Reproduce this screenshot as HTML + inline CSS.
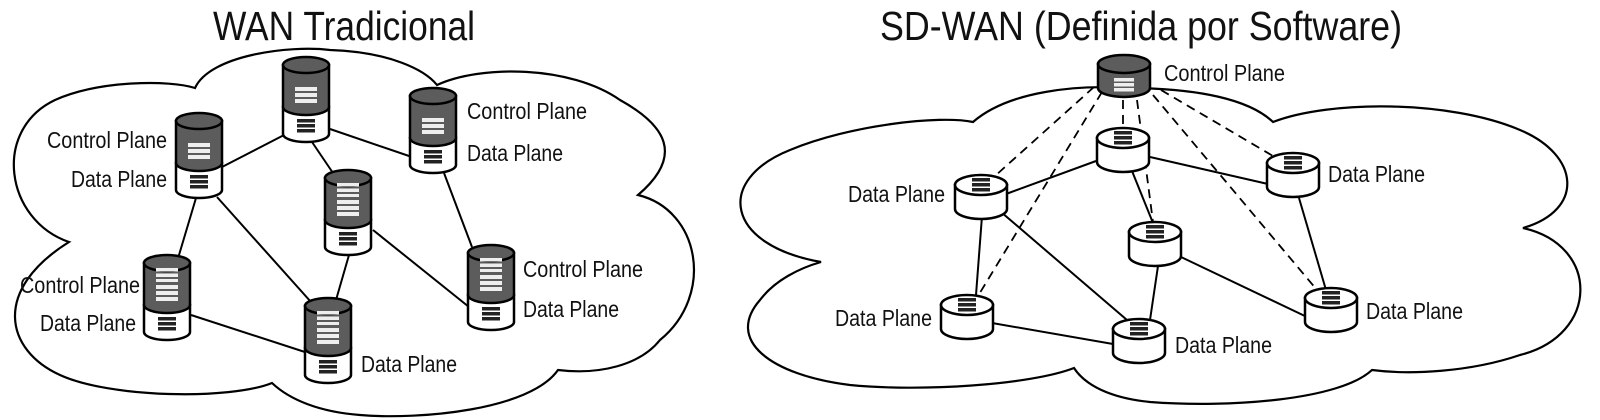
<!DOCTYPE html>
<html><head><meta charset="utf-8"><style>
html,body{margin:0;padding:0;background:#fff;}
svg{display:block;}
text{font-family:"Liberation Sans",sans-serif;fill:#111;}
</style></head><body>
<svg width="1600" height="420" viewBox="0 0 1600 420" xmlns="http://www.w3.org/2000/svg">
<defs>
<g id="sc">
 <path d="M-23,50 V77 A23,8 0 0 0 23,77 V50 Z" fill="#fff" stroke="#000" stroke-width="2.5"/>
 <path d="M-23,8 V50 A23,8 0 0 0 23,50 V8 Z" fill="#5c5c5c" stroke="#000" stroke-width="2.5"/>
 <ellipse cx="0" cy="8" rx="23" ry="8" fill="#5c5c5c" stroke="#000" stroke-width="2.5"/>
 <rect x="-11" y="30" width="22" height="4" fill="#eee"/>
 <rect x="-11" y="36" width="22" height="4" fill="#eee"/>
 <rect x="-11" y="42" width="22" height="4" fill="#eee"/>
 <rect x="-9" y="62" width="18" height="3.5" fill="#222"/>
 <rect x="-9" y="67" width="18" height="3.5" fill="#222"/>
 <rect x="-9" y="72" width="18" height="3.5" fill="#222"/>
</g>
<g id="sc2">
 <use href="#sc"/>
 <rect x="-11" y="13" width="22" height="3.5" fill="#eee"/>
 <rect x="-11" y="18.5" width="22" height="3.5" fill="#eee"/>
 <rect x="-11" y="24" width="22" height="3" fill="#eee"/>
</g>
<g id="dn">
 <path d="M-26,10 V34 A26,10 0 0 0 26,34 V10 Z" fill="#fff" stroke="#000" stroke-width="2.5"/>
 <ellipse cx="0" cy="10" rx="26" ry="10" fill="#fff" stroke="#000" stroke-width="2.5"/>
 <rect x="-9" y="3" width="18" height="3.5" fill="#222"/>
 <rect x="-9" y="8" width="18" height="3.5" fill="#222"/>
 <rect x="-9" y="13" width="18" height="3.5" fill="#222"/>
</g>
<g id="cn">
 <path d="M-26,9 V33 A26,9 0 0 0 26,33 V9 Z" fill="#5c5c5c" stroke="#000" stroke-width="2.5"/>
 <ellipse cx="0" cy="9" rx="26" ry="9" fill="#5c5c5c" stroke="#000" stroke-width="2.5"/>
 <rect x="-10" y="23" width="20" height="3.5" fill="#eee"/>
 <rect x="-10" y="28" width="20" height="3.5" fill="#eee"/>
 <rect x="-10" y="33" width="20" height="3.5" fill="#eee"/>
</g>
</defs>

<text x="213" y="40" font-size="41" textLength="262" lengthAdjust="spacingAndGlyphs">WAN Tradicional</text>
<text x="880" y="40" font-size="41" textLength="522" lengthAdjust="spacingAndGlyphs">SD-WAN (Definida por Software)</text>

<path d="M69,242 C5,220 -8,130 55,100 C100,80 170,80 195,88 C210,55 290,45 330,50 C390,52 425,70 437,85 C480,65 570,65 620,100 C665,125 685,155 638,195 C700,210 715,295 660,340 C640,365 600,375 558,370 C530,410 420,420 360,415 C320,412 290,400 272,383 C230,400 110,398 60,375 C5,350 -8,290 69,242 Z" fill="none" stroke="#000" stroke-width="2.2"/>
<path d="M821,262 C725,245 715,180 790,150 C850,125 940,115 973,122 C1010,90 1080,85 1125,88 C1200,88 1250,100 1273,122 C1330,100 1450,100 1520,130 C1580,155 1585,210 1523,228 C1600,245 1600,335 1520,355 C1470,372 1410,375 1372,370 C1340,400 1230,408 1150,402 C1110,398 1085,385 1074,368 C1030,385 920,392 850,385 C770,375 725,340 760,300 C775,280 800,268 821,262 Z" fill="none" stroke="#000" stroke-width="2.2"/>

<g stroke="#000" stroke-width="2" fill="none">
 <line x1="222" y1="167" x2="286" y2="134"/>
 <line x1="330" y1="129" x2="412" y2="157"/>
 <line x1="312" y1="142" x2="333" y2="173"/>
 <line x1="444" y1="173" x2="472" y2="247"/>
 <line x1="196" y1="198" x2="179" y2="255"/>
 <line x1="217" y1="197" x2="311" y2="302"/>
 <line x1="373" y1="230" x2="469" y2="307"/>
 <line x1="349" y1="255" x2="336" y2="300"/>
 <line x1="191" y1="315" x2="308" y2="353"/>

 <line x1="1006" y1="194" x2="1096" y2="161"/>
 <line x1="1150" y1="157" x2="1268" y2="184"/>
 <line x1="1132" y1="171" x2="1153" y2="223"/>
 <line x1="982" y1="216" x2="976" y2="295"/>
 <line x1="1001" y1="212" x2="1127" y2="320"/>
 <line x1="992" y1="323" x2="1113" y2="344"/>
 <line x1="1158" y1="266" x2="1150" y2="320"/>
 <line x1="1181" y1="257" x2="1307" y2="317"/>
 <line x1="1299" y1="198" x2="1326" y2="290"/>
</g>
<g stroke="#000" stroke-width="1.8" fill="none" stroke-dasharray="9,6">
 <line x1="1094" y1="87" x2="995" y2="176"/>
 <line x1="1102" y1="92" x2="978" y2="296"/>
 <line x1="1123" y1="100" x2="1123" y2="128"/>
 <line x1="1137" y1="100" x2="1153" y2="222"/>
 <line x1="1161" y1="90" x2="1273" y2="156"/>
 <line x1="1153" y1="95" x2="1317" y2="290"/>
</g>

<use href="#sc" x="199" y="113"/>
<use href="#sc" x="306" y="57"/>
<use href="#sc" x="433" y="88"/>
<use href="#sc2" x="348" y="170"/>
<use href="#sc2" x="167" y="255"/>
<use href="#sc2" x="491" y="245"/>
<use href="#sc2" x="328" y="298"/>

<use href="#cn" x="1124" y="55"/>
<use href="#dn" x="1123" y="128"/>
<use href="#dn" x="981" y="175"/>
<use href="#dn" x="1293" y="153"/>
<use href="#dn" x="1155" y="222"/>
<use href="#dn" x="967" y="295"/>
<use href="#dn" x="1139" y="319"/>
<use href="#dn" x="1331" y="288"/>

<g font-size="23">
 <text x="47" y="148" textLength="120" lengthAdjust="spacingAndGlyphs">Control Plane</text>
 <text x="71" y="187" textLength="96" lengthAdjust="spacingAndGlyphs">Data Plane</text>
 <text x="467" y="119" textLength="120" lengthAdjust="spacingAndGlyphs">Control Plane</text>
 <text x="467" y="161" textLength="96" lengthAdjust="spacingAndGlyphs">Data Plane</text>
 <text x="20" y="293" textLength="120" lengthAdjust="spacingAndGlyphs">Control Plane</text>
 <text x="40" y="331" textLength="96" lengthAdjust="spacingAndGlyphs">Data Plane</text>
 <text x="523" y="277" textLength="120" lengthAdjust="spacingAndGlyphs">Control Plane</text>
 <text x="523" y="317" textLength="96" lengthAdjust="spacingAndGlyphs">Data Plane</text>
 <text x="361" y="372" textLength="96" lengthAdjust="spacingAndGlyphs">Data Plane</text>

 <text x="1164" y="81" textLength="121" lengthAdjust="spacingAndGlyphs">Control Plane</text>
 <text x="848" y="202" textLength="97" lengthAdjust="spacingAndGlyphs">Data Plane</text>
 <text x="1328" y="182" textLength="97" lengthAdjust="spacingAndGlyphs">Data Plane</text>
 <text x="835" y="326" textLength="97" lengthAdjust="spacingAndGlyphs">Data Plane</text>
 <text x="1175" y="353" textLength="97" lengthAdjust="spacingAndGlyphs">Data Plane</text>
 <text x="1366" y="319" textLength="97" lengthAdjust="spacingAndGlyphs">Data Plane</text>
</g>
</svg>
</body></html>
